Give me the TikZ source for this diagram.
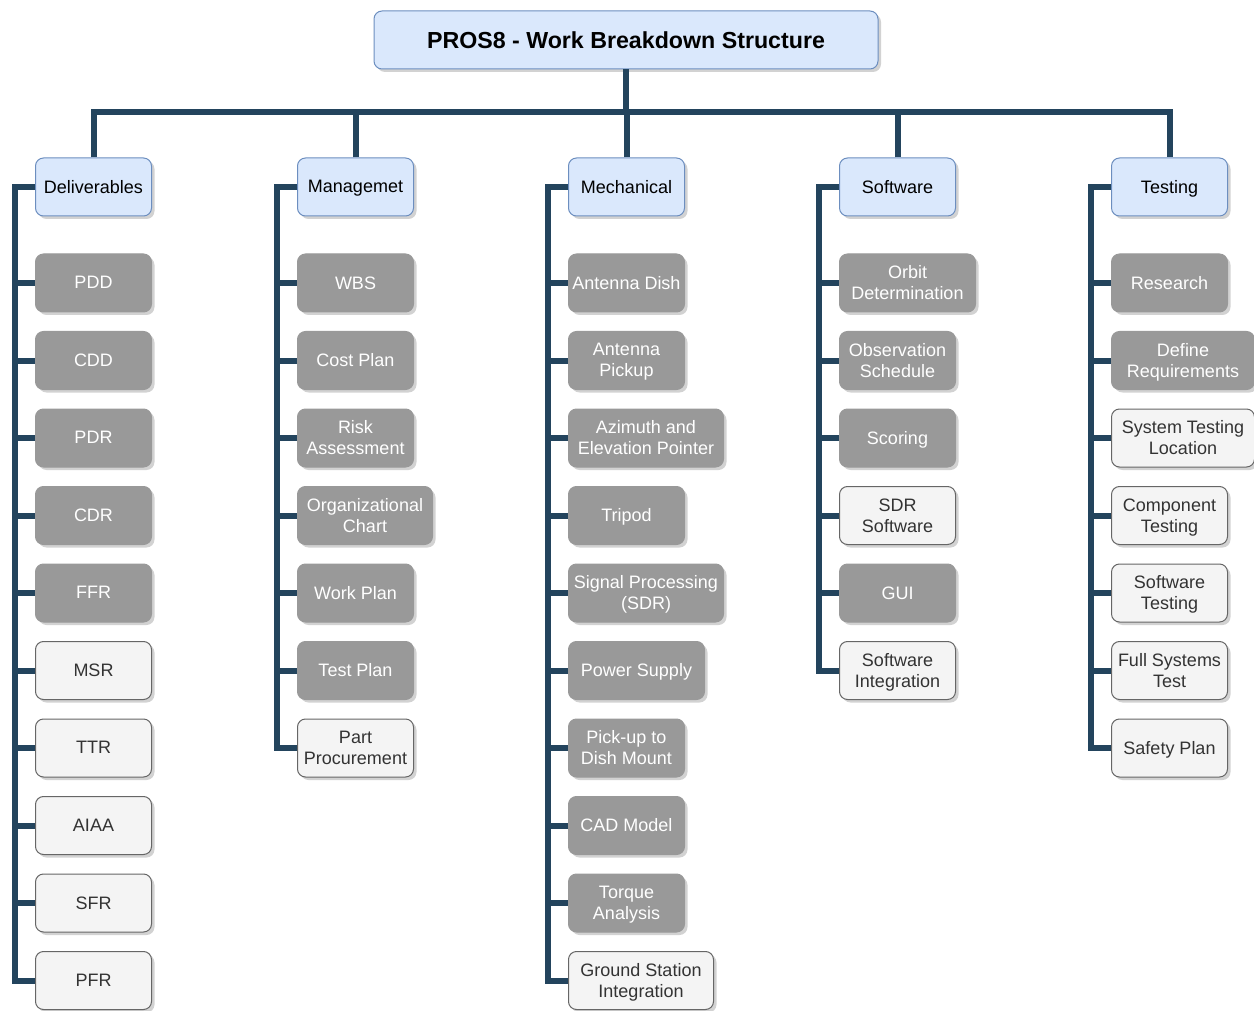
\documentclass[tikz,border=0pt]{standalone}
\usepackage{fontspec}
\setmainfont{Liberation Sans}
\usetikzlibrary{shadows}
\definecolor{lineblue}{HTML}{23445D}
\definecolor{catfill}{HTML}{DAE8FC}
\definecolor{catdraw}{HTML}{6C8EBF}
\definecolor{greyfill}{HTML}{999999}
\definecolor{whitefill}{HTML}{F4F4F4}
\definecolor{whitedraw}{HTML}{666666}
\definecolor{darktext}{HTML}{333333}
\tikzset{
  base/.style={rounded corners=8pt, minimum height=58pt, minimum width=116pt,
    align=center, font=\fontsize{18}{21}\selectfont, inner sep=2pt, anchor=west,
    line width=1pt, text depth=0.5pt,
    drop shadow={shadow xshift=3pt, shadow yshift=-3pt, fill=black!35, opacity=0.5}},
  cat/.style={base, fill=catfill, draw=catdraw, text=black},
  gbox/.style={base, fill=greyfill, draw=greyfill, text=white},
  wbox/.style={base, fill=whitefill, draw=whitedraw, text=darktext},
  conn/.style={draw=lineblue, line width=6pt, line join=miter},
}
\begin{document}
\begin{tikzpicture}[x=1pt,y=-1pt]
\useasboundingbox (0,0) rectangle (1254,1011);

% title
\node[cat, anchor=center, minimum width=504pt, font=\fontsize{23.2}{26}\selectfont\bfseries] (title) at (626,40) {PROS8 - Work Breakdown Structure};

% categories
\node[cat] (c1) at (35,187) {Deliverables};
\node[cat] (c2) at (297,187) {Managemet};
\node[cat] (c3) at (568,187) {Mechanical};
\node[cat] (c4) at (839,187) {Software};
\node[cat] (c5) at (1111,187) {Testing};

% Deliverables
\node[gbox] (d1) at (35,283) {PDD};
\node[gbox] (d2) at (35,360.5) {CDD};
\node[gbox] (d3) at (35,438) {PDR};
\node[gbox] (d4) at (35,515.5) {CDR};
\node[gbox] (d5) at (35,593) {FFR};
\node[wbox] (d6) at (35,670.5) {MSR};
\node[wbox] (d7) at (35,748) {TTR};
\node[wbox] (d8) at (35,825.5) {AIAA};
\node[wbox] (d9) at (35,903) {SFR};
\node[wbox] (d10) at (35,980.5) {PFR};

% Managemet
\node[gbox] (m1) at (297,283) {WBS};
\node[gbox] (m2) at (297,360.5) {Cost Plan};
\node[gbox] (m3) at (297,438) {Risk\\Assessment};
\node[gbox, minimum width=135pt] (m4) at (297,515.5) {Organizational\\Chart};
\node[gbox] (m5) at (297,593) {Work Plan};
\node[gbox] (m6) at (297,670.5) {Test Plan};
\node[wbox] (m7) at (297,748) {Part\\Procurement};

% Mechanical
\node[gbox] (e1) at (568,283) {Antenna Dish};
\node[gbox] (e2) at (568,360.5) {Antenna\\Pickup};
\node[gbox, minimum width=155pt] (e3) at (568,438) {Azimuth and\\Elevation Pointer};
\node[gbox] (e4) at (568,515.5) {Tripod};
\node[gbox, minimum width=155pt] (e5) at (568,593) {Signal Processing\\(SDR)};
\node[gbox, minimum width=136pt] (e6) at (568,670.5) {Power Supply};
\node[gbox] (e7) at (568,748) {Pick-up to\\Dish Mount};
\node[gbox] (e8) at (568,825.5) {CAD Model};
\node[gbox] (e9) at (568,903) {Torque\\Analysis};
\node[wbox, minimum width=145pt] (e10) at (568,980.5) {Ground Station\\Integration};

% Software
\node[gbox, minimum width=136pt] (s1) at (839,283) {Orbit\\Determination};
\node[gbox] (s2) at (839,360.5) {Observation\\Schedule};
\node[gbox] (s3) at (839,438) {Scoring};
\node[wbox] (s4) at (839,515.5) {SDR\\Software};
\node[gbox] (s5) at (839,593) {GUI};
\node[wbox] (s6) at (839,670.5) {Software\\Integration};

% Testing
\node[gbox] (t1) at (1111,283) {Research};
\node[gbox, minimum width=143pt] (t2) at (1111,360.5) {Define\\Requirements};
\node[wbox, minimum width=143pt] (t3) at (1111,438) {System Testing\\Location};
\node[wbox] (t4) at (1111,515.5) {Component\\Testing};
\node[wbox] (t5) at (1111,593) {Software\\Testing};
\node[wbox] (t6) at (1111,670.5) {Full Systems\\Test};
\node[wbox] (t7) at (1111,748) {Safety Plan};

% top connectors
\coordinate (bus) at (626,112);
\draw[conn] (c1.north) -- (c1.north |- bus) -- (c5.north |- bus) -- (c5.north);
\draw[conn] (title.south) -- (title.south |- bus);
\draw[conn] (c2.north) -- (c2.north |- bus);
\draw[conn] (c3.north) -- (c3.north |- bus);
\draw[conn] (c4.north) -- (c4.north |- bus);

% spines
\draw[conn] (c1.west) -- ++(-20pt,0) |- (d10.west);
\foreach \n in {d1,d2,d3,d4,d5,d6,d7,d8,d9} \draw[conn] (\n.west) -- ++(-23pt,0);
\draw[conn] (c2.west) -- ++(-20pt,0) |- (m7.west);
\foreach \n in {m1,m2,m3,m4,m5,m6} \draw[conn] (\n.west) -- ++(-23pt,0);
\draw[conn] (c3.west) -- ++(-20pt,0) |- (e10.west);
\foreach \n in {e1,e2,e3,e4,e5,e6,e7,e8,e9} \draw[conn] (\n.west) -- ++(-23pt,0);
\draw[conn] (c4.west) -- ++(-20pt,0) |- (s6.west);
\foreach \n in {s1,s2,s3,s4,s5} \draw[conn] (\n.west) -- ++(-23pt,0);
\draw[conn] (c5.west) -- ++(-20pt,0) |- (t7.west);
\foreach \n in {t1,t2,t3,t4,t5,t6} \draw[conn] (\n.west) -- ++(-23pt,0);
\end{tikzpicture}
\end{document}
